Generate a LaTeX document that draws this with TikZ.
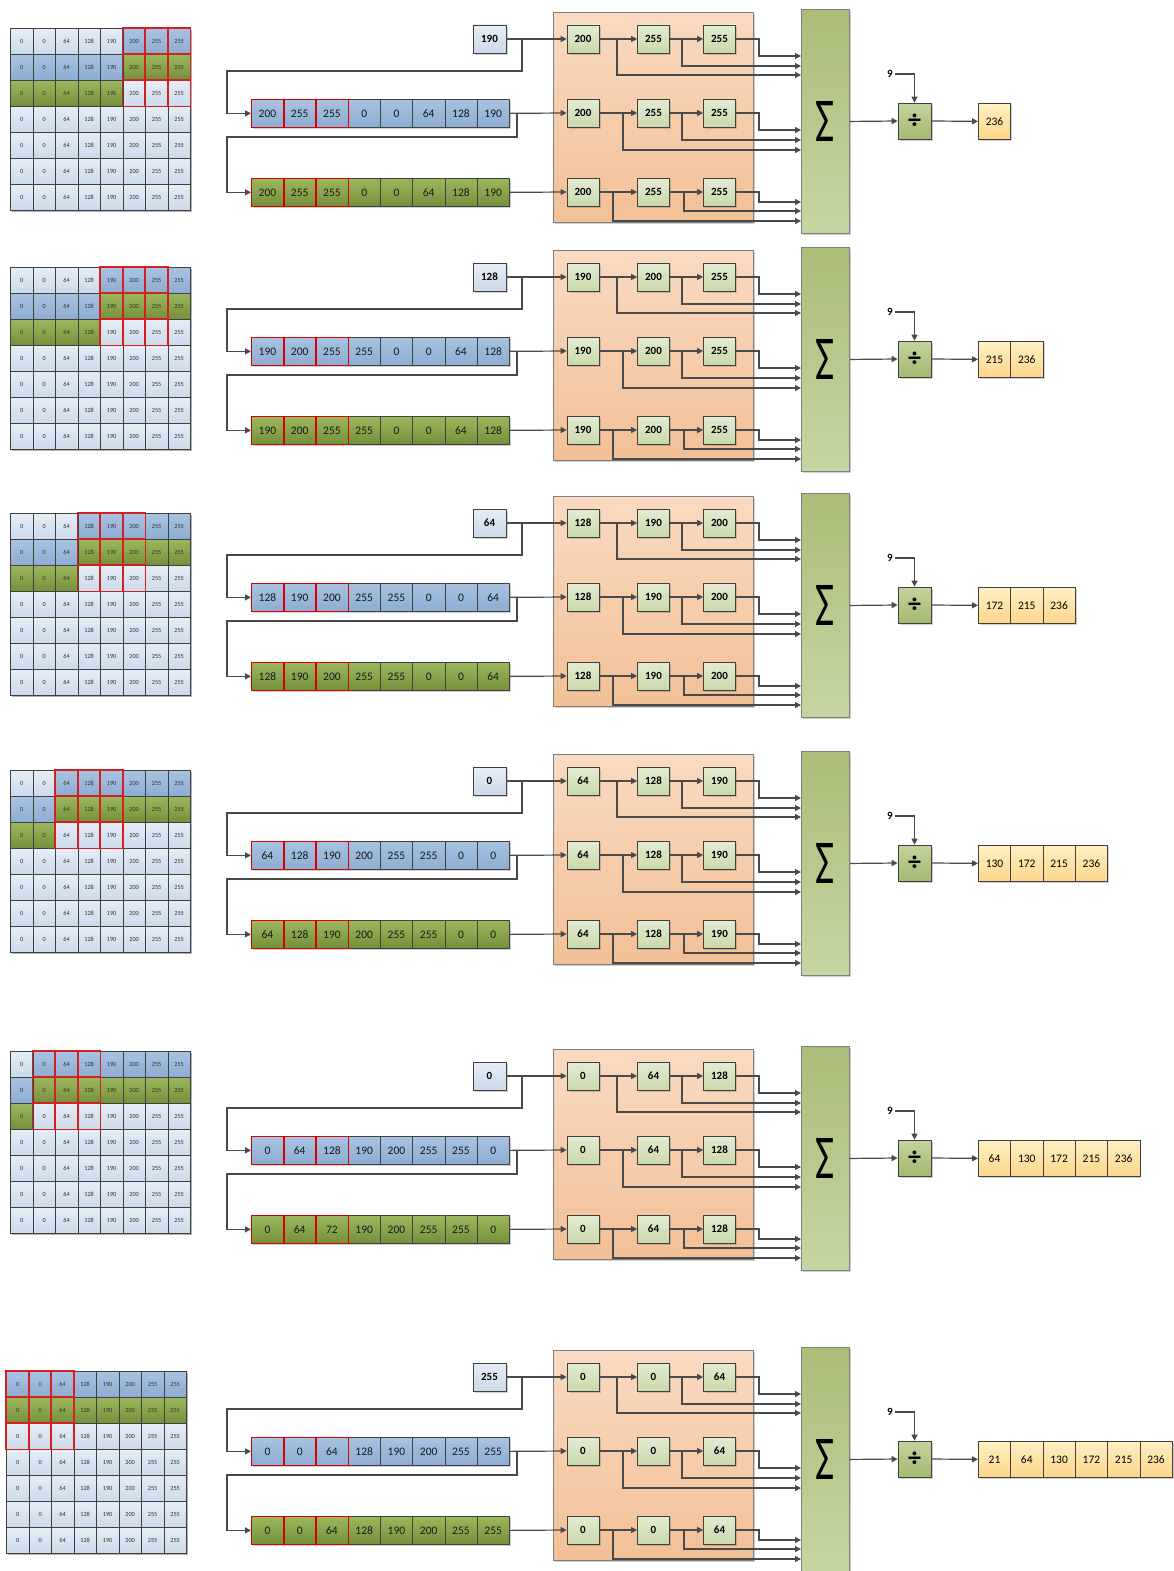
\documentclass[tikz,border=0pt]{standalone}
\usepackage{fontspec}
\setmainfont{Carlito}
\usepackage{graphicx}
\usetikzlibrary{arrows.meta,shadows}
\definecolor{cellb}{HTML}{404040}
\definecolor{lbT}{HTML}{E6EDF6}
\definecolor{lbB}{HTML}{CCDAEB}
\definecolor{bT}{HTML}{A9C3E1}
\definecolor{bB}{HTML}{8DACD2}
\definecolor{gT}{HTML}{9CB85E}
\definecolor{gB}{HTML}{748F3A}
\definecolor{regT}{HTML}{E4ECD4}
\definecolor{regB}{HTML}{C9D8AB}
\definecolor{orT}{HTML}{F9DAC2}
\definecolor{orB}{HTML}{F3C096}
\definecolor{sumT}{HTML}{ABBD78}
\definecolor{sumB}{HTML}{C6D6A3}
\definecolor{divT}{HTML}{C3D49E}
\definecolor{divB}{HTML}{A4B970}
\definecolor{outT}{HTML}{FFF0C4}
\definecolor{outB}{HTML}{FDD68A}
\definecolor{linec}{HTML}{4A4A4A}
\definecolor{redc}{HTML}{D42020}
\definecolor{boxb}{HTML}{7F7F7F}
\tikzset{
  shad/.style={drop shadow={shadow xshift=1.6pt,shadow yshift=-1.6pt,opacity=0.3,fill=black!60}},
  gcell/.style={draw=cellb,line width=0.7pt,minimum width=22.5pt,minimum height=26pt,inner sep=0pt,anchor=north west,font=\fontsize{6.3}{6.3}\selectfont,text=black!80},
  winred/.style={draw=redc,line width=1.5pt},
  rowred/.style={draw=red!85!black,line width=0.9pt},
  rcell/.style={draw=cellb,line width=0.7pt,minimum width=32.25pt,minimum height=28pt,inner sep=0pt,anchor=north west,font=\fontsize{11.5}{11.5}\selectfont,text=black!90,shad},
  reg/.style={draw=cellb,line width=0.7pt,minimum width=32pt,minimum height=28pt,inner sep=0pt,top color=regT,bottom color=regB,font=\bfseries\fontsize{11}{11}\selectfont,shad},
  inbox/.style={draw=cellb,line width=0.7pt,minimum width=33pt,minimum height=28pt,inner sep=0pt,top color=lbT,bottom color=lbB,font=\bfseries\fontsize{11}{11}\selectfont,shad},
  obox/.style={draw=boxb,line width=0.9pt,minimum width=200pt,minimum height=210pt,inner sep=0pt,anchor=north west,top color=orT,bottom color=orB,shad},
  sumbox/.style={draw=boxb,line width=0.9pt,minimum width=48pt,minimum height=224pt,inner sep=0pt,anchor=north west,top color=sumT,bottom color=sumB,shad},
  divbox/.style={draw=cellb,line width=0.7pt,minimum width=33pt,minimum height=36pt,inner sep=0pt,top color=divT,bottom color=divB,font=\bfseries\fontsize{26}{26}\selectfont,shad},
  outbox/.style={draw=cellb,line width=0.7pt,minimum width=32.3pt,minimum height=36pt,inner sep=0pt,anchor=north west,top color=outT,bottom color=outB,font=\fontsize{11.5}{11.5}\selectfont,shad},
  ninel/.style={inner sep=2pt,font=\bfseries\fontsize{11}{11}\selectfont},
  arr/.style={draw=linec,line width=1.2pt,-{Triangle[length=6pt,width=6pt]}}
}
\begin{document}
\begin{tikzpicture}[x=1pt,y=-1pt]
\useasboundingbox (0,0) rectangle (1174,1571);
\clip (0,0) rectangle (1174,1571);
\fill[white] (0,0) rectangle (1174,1571);
\foreach \p/\oy/\gx/\gy/\k/\inp/\rowA/\rowB/\regs/\outs in {
 1/0/10/28/5/190/{200,255,255,0,0,64,128,190}/{200,255,255,0,0,64,128,190}/{200,255,255}/{236},
 2/238/10/267/4/128/{190,200,255,255,0,0,64,128}/{190,200,255,255,0,0,64,128}/{190,200,255}/{215,236},
 3/484/10/513/3/64/{128,190,200,255,255,0,0,64}/{128,190,200,255,255,0,0,64}/{128,190,200}/{172,215,236},
 4/742/10/770/2/0/{64,128,190,200,255,255,0,0}/{64,128,190,200,255,255,0,0}/{64,128,190}/{130,172,215,236},
 5/1037/10/1051/1/0/{0,64,128,190,200,255,255,0}/{0,64,72,190,200,255,255,0}/{0,64,128}/{64,130,172,215,236},
 6/1338/6/1371/0/255/{0,0,64,128,190,200,255,255}/{0,0,64,128,190,200,255,255}/{0,0,64}/{21,64,130,172,215,236}}{
  % ---- image grid ----
  \fill[black!30] (\gx+2,\gy+2) rectangle (\gx+182,\gy+184);
  \foreach \r in {1,...,7}{
    \foreach \v [count=\c from 0] in {0,0,64,128,190,200,255,255}{
      \def\ct{lbT}\def\cb{lbB}%
      \ifnum\r=1\relax \ifnum\c<\k\relax\else\def\ct{bT}\def\cb{bB}\fi\fi
      \ifnum\r=2\relax \ifnum\c<\k\relax\def\ct{bT}\def\cb{bB}\else\def\ct{gT}\def\cb{gB}\fi\fi
      \ifnum\r=3\relax \ifnum\c<\k\relax\def\ct{gT}\def\cb{gB}\fi\fi
      \node[gcell,top color=\ct,bottom color=\cb] (p\p-g\r-\c) at (\gx+\c*22.5,\gy+\r*26-26) {\v};
    }
  }
  \foreach \r in {1,2,3}{
    \foreach \dc in {0,1,2}{
      \pgfmathtruncatemacro\cc{\k+\dc}
      \draw[winred] (p\p-g\r-\cc.north west) rectangle (p\p-g\r-\cc.south east);
    }
  }
  % ---- input and shift rows ----
  \node[inbox] (p\p-inp) at (489.5,\oy+39) {\inp};
  \foreach \v [count=\i] in \rowA {
    \node[rcell,top color=bT,bottom color=bB] (p\p-b\i) at (251+\i*32.25-32.25,\oy+99) {\v};
  }
  \foreach \v [count=\i] in \rowB {
    \node[rcell,top color=gT,bottom color=gB] (p\p-c\i) at (251+\i*32.25-32.25,\oy+178) {\v};
  }
  \foreach \i in {1,2,3}{
    \draw[rowred] (p\p-b\i.north west) rectangle (p\p-b\i.south east);
    \draw[rowred] (p\p-c\i.north west) rectangle (p\p-c\i.south east);
  }
  % ---- register window ----
  \node[obox] (p\p-orange) at (553,\oy+12) {};
  \foreach \v [count=\j] in \regs {
    \ifcase\j\or\def\rx{583}\or\def\rx{653.5}\or\def\rx{719.5}\fi
    \foreach \rr/\ry in {1/39,2/113,3/192}{
      \node[reg] (p\p-r\rr\j) at (\rx,\oy+\ry) {\v};
    }
  }
  % ---- sum, divide, output ----
  \node[sumbox] (p\p-sum) at (801,\oy+9) {\resizebox{19pt}{40pt}{Σ}};
  \node[divbox] (p\p-div) at (914.5,\oy+121) {÷};
  \node[ninel] (p\p-nine) at (890,\oy+74) {9};
  \foreach \v [count=\i] in \outs {
    \node[outbox] (p\p-o\i) at (978+\i*32.3-32.3,\oy+103) {\v};
  }
  % ---- connectors ----
  \draw[arr] (p\p-inp.east) -- (p\p-r11.west);
  \coordinate (p\p-j1) at (522,\oy+39);
  \draw[arr] (p\p-j1) |- (227,\oy+71) |- (p\p-b1.west);
  \draw[arr] (p\p-b8.east) -- (p\p-r21.west);
  \coordinate (p\p-j2) at (517,\oy+113);
  \draw[arr] (p\p-j2) |- (227,\oy+137) |- (p\p-c1.west);
  \draw[arr] (p\p-c8.east) -- (p\p-r31.west);
  \foreach \rr/\ry/\la/\lb/\lc/\xb/\xc in {1/39/56/66/75/682/617,2/113/130/140/150/682/623,3/192/202/211/221/684/613}{
    \draw[arr] (p\p-r\rr1.east) -- (p\p-r\rr2.west);
    \draw[arr] (p\p-r\rr2.east) -- (p\p-r\rr3.west);
    \coordinate (p\p-k\rr b) at (\xb,\oy+\ry);
    \coordinate (p\p-k\rr c) at (\xc,\oy+\ry);
    \draw[arr] (p\p-r\rr3.east) -| (759,\oy+\la) -- ([yshift={9pt-\la pt}]p\p-sum.north west);
    \draw[arr] (p\p-k\rr b) |- ([yshift={9pt-\lb pt}]p\p-sum.north west);
    \draw[arr] (p\p-k\rr c) |- ([yshift={9pt-\lc pt}]p\p-sum.north west);
  }
  \draw[arr] (p\p-sum.east) -- (p\p-div.west);
  \draw[arr] (p\p-nine.east) -| (p\p-div.north);
  \draw[arr] (p\p-div.east) -- (p\p-o1.west);
}
\end{tikzpicture}
\end{document}
